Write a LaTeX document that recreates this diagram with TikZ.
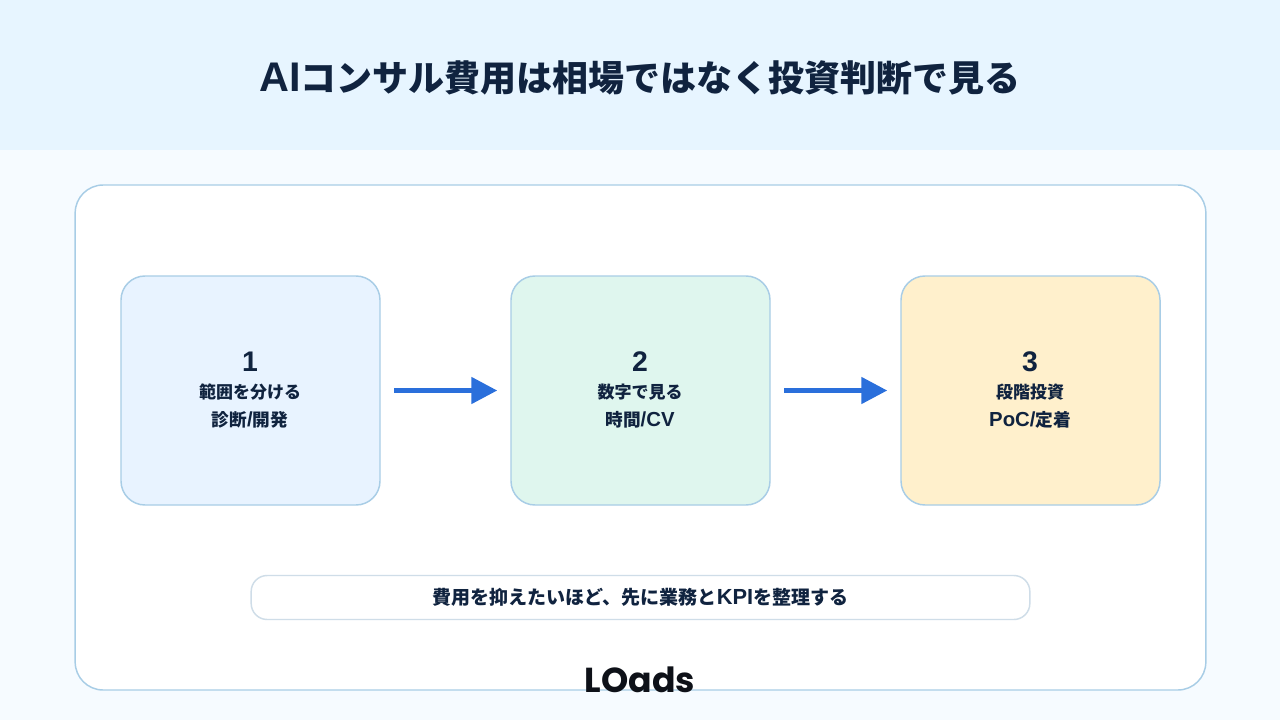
\documentclass[tikz,border=0pt]{standalone}
\usepackage{fontspec}
\setmainfont{Noto Sans CJK JP}
\newfontfamily\logofont{Poppins}
\newfontfamily\latinfont[Scale=1.15]{Liberation Sans}
\newcommand{\lat}[1]{{\latinfont #1}}
\usetikzlibrary{arrows.meta}
\definecolor{headbg}{HTML}{E7F5FF}
\definecolor{pagebg}{HTML}{F6FBFF}
\definecolor{edgeblue}{HTML}{A8CDE6}
\definecolor{boxblue}{HTML}{E8F3FF}
\definecolor{boxgreen}{HTML}{DFF6EE}
\definecolor{boxyellow}{HTML}{FFF0CC}
\definecolor{inkblue}{HTML}{10233F}
\definecolor{arrowblue}{HTML}{2A6FDB}
\definecolor{noteedge}{HTML}{CFDDE8}
\definecolor{logoink}{HTML}{0E1118}
\tikzset{
  stepbox/.style={draw=edgeblue, line width=1.1pt, rounded corners=18pt, minimum width=194.25pt, minimum height=171.75pt},
  stepnum/.style={text=inkblue, font=\latinfont\bfseries\fontsize{18.5}{21}\selectfont},
  steptext/.style={text=inkblue, font=\bfseries\fontsize{12.75}{14}\selectfont},
  stepsub/.style={text=inkblue, font=\bfseries\fontsize{13.25}{14}\selectfont},
  flowarrow/.style={-{Triangle[length=19.5pt,width=19.5pt]}, draw=arrowblue, line width=3.75pt, shorten <=10pt, shorten >=9.75pt},
}
\begin{document}
\begin{tikzpicture}[x=0.75pt, y=-0.75pt]
\useasboundingbox (0,0) rectangle (1280,720);
\fill[pagebg] (0,0) rectangle (1280,720);
\fill[headbg] (0,0) rectangle (1280,150);
\node (title) at (640,78) [text=inkblue, font=\bfseries\fontsize{27}{30}\selectfont] {\lat{AI}コンサル費用は相場ではなく投資判断で見る};
\node (panel) at (640.5,437.5) [draw=edgeblue, fill=white, line width=1.1pt, rounded corners=21pt, minimum width=848pt, minimum height=378.75pt] {};

\node (box1) at (250.5,390.5) [stepbox, fill=boxblue] {};
\node (box2) at (640.5,390.5) [stepbox, fill=boxgreen] {};
\node (box3) at (1030.5,390.5) [stepbox, fill=boxyellow] {};

\node (num1) at (250,362) [stepnum] {1};
\node (label1) at (250,392) [steptext] {範囲を分ける};
\node (sub1) at (250,420) [stepsub] {診断\lat{/}開発};

\node (num2) at (640,362) [stepnum] {2};
\node (label2) at (640,392) [steptext] {数字で見る};
\node (sub2) at (640,420) [stepsub] {時間\lat{/CV}};

\node (num3) at (1030,362) [stepnum] {3};
\node (label3) at (1030,392) [steptext] {段階投資};
\node (sub3) at (1030,420) [stepsub] {\lat{PoC/}定着};

\draw[flowarrow] (box1) -- (box2);
\draw[flowarrow] (box2) -- (box3);

\node (note) at (640.5,597.5) [draw=noteedge, fill=white, line width=1.1pt, rounded corners=12pt, minimum width=584pt, minimum height=33pt, text=inkblue, font=\bfseries\fontsize{14.25}{16}\selectfont] {費用を抑えたいほど、先に業務と\lat{KPI}を整理する};
\node (logo) at (640,680) [text=logoink, font=\logofont\bfseries\fontsize{26}{26}\selectfont] {LOads};
\end{tikzpicture}
\end{document}
